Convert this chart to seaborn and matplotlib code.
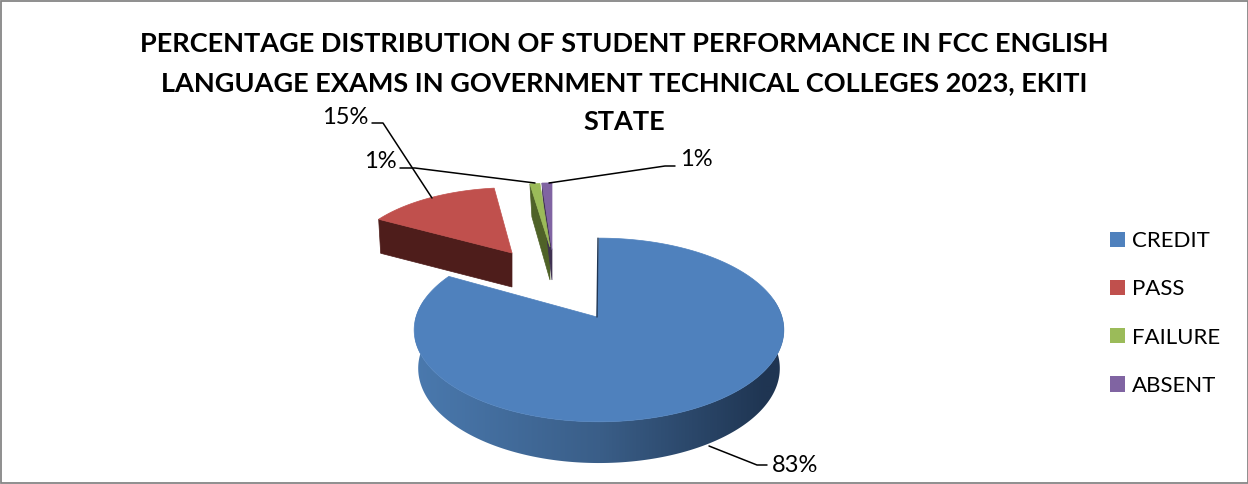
import numpy as np
import matplotlib
matplotlib.use('Agg')
import matplotlib.pyplot as plt
from matplotlib.patches import Patch, Polygon, Rectangle
from matplotlib.colors import LinearSegmentedColormap
import seaborn as sns

categories = ['CREDIT', 'PASS', 'FAILURE', 'ABSENT']
percentages = [83, 15, 1, 1]
title_lines = ['PERCENTAGE DISTRIBUTION OF STUDENT PERFORMANCE IN FCC ENGLISH',
               'LANGUAGE EXAMS IN GOVERNMENT TECHNICAL COLLEGES 2023, EKITI',
               'STATE']

colors = sns.color_palette(['#4f81bd', '#c0504d', '#9bbb59', '#8064a2'])
dark_colors = ['#1f3552', '#4e1d1b', '#4f6228', '#3f3151']

# pie geometry in pixels: apex of the unexploded slice, radii, perspective
CX, CY = 599, 317
RX, RY = 183, 90
PERSP = 0.141

# apex and radii of the exploded slices
exploded = {
    1: dict(ax=512, ay=253, rx=163, ry=75, depth=34),
    2: dict(ax=550, ay=247, rx=184, ry=73, depth=33),
    3: dict(ax=552, ay=250, rx=184, ry=77, depth=30),
}

sns.set_theme(style='white')
plt.rcParams['font.family'] = ['Lato', 'DejaVu Sans']

fig = plt.figure(figsize=(12.48, 4.84), dpi=100)
ax = fig.add_axes([0, 0, 1, 1])
ax.axis('off')

ax.add_patch(Rectangle((0.5, 1), 1247, 481.5, fill=False, ec='#868686', lw=1.3))


def main_rim(theta, cy=CY, rx=RX, ry=RY):
    u, v = np.sin(theta), np.cos(theta)
    d = 1 + PERSP * v
    return CX + rx * u / d, cy - ry * v / d


# slice angles come from the values, clockwise from 12 o'clock
edges = np.radians(np.cumsum([0] + percentages) / sum(percentages) * 360)

# side of the big slice, horizontal gradient clipped to its outline
steps = np.linspace(np.radians(60), np.radians(290), 240)
top_x, top_y = main_rim(steps)
low_x, low_y = main_rim(steps, CY + 38, 179, 92.8)
outline = Polygon(np.r_[np.c_[top_x, top_y], np.c_[low_x, low_y][::-1]], transform=ax.transData)
cmap = LinearSegmentedColormap.from_list('side', [(0, '#4a79ae'), (0.5, '#3a5e88'), (0.95, '#1f3552'), (1, '#1f3552')])
grad = ax.imshow(np.linspace(0, 1, 370).reshape(1, -1), cmap=cmap, extent=(415, 785, 480, 300),
                 aspect='auto', zorder=2, interpolation='bilinear')
grad.set_clip_path(outline)
ax.set_xlim(0, 1248)
ax.set_ylim(484, 0)

# top of the big slice
th = np.linspace(edges[0], edges[1], 300)
xs, ys = main_rim(th)
ax.add_patch(Polygon(np.r_[[[CX - 2, CY]], np.c_[xs, ys]], fc=colors[0], ec=colors[0], lw=0.5, zorder=3))
ax.plot([xs[0] - 1, CX - 2], [ys[0], CY], color=dark_colors[0], lw=1, zorder=4)

# the three small pulled out slices
for i in [1, 2, 3]:
    p = exploded[i]
    th = np.linspace(edges[i], edges[i + 1], 60)
    d = 1 + 0.148 * np.cos(th)
    xs = p['ax'] + p['rx'] * np.sin(th) / d
    ys = p['ay'] - p['ry'] * np.cos(th) / d
    h = p['depth']
    cut = [(xs[0], ys[0]), (p['ax'], p['ay']), (p['ax'], p['ay'] + h), (xs[0] + 2, ys[0] + h)]
    ax.add_patch(Polygon(cut, fc=dark_colors[i], ec=dark_colors[i], lw=0.5, zorder=3))
    ax.add_patch(Polygon(np.r_[[[p['ax'], p['ay']]], np.c_[xs, ys]], fc=colors[i], ec=colors[i], lw=0.5, zorder=4))

# leader lines
leaders = [
    [(709, 446), (757, 465), (767, 465)],
    [(372, 123), (383, 123), (432, 198)],
    [(400, 168), (415, 168), (535, 183)],
    [(549, 183), (665, 166), (675, 166)],
]
label_pos = [(795, 465), (345, 117), (380, 162), (696, 160)]
for pts, pos, val in zip(leaders, label_pos, percentages):
    ax.plot(*zip(*pts), color='black', lw=1.1, zorder=5)
    ax.text(pos[0], pos[1], f'{val}%', ha='center', va='center', fontsize=17, color='black')

for line, y in zip(title_lines, [44.5, 83.5, 121.5]):
    ax.text(624, y, line, ha='center', va='center', fontsize=19.5, fontweight='bold', color='black')

handles = [Patch(fc=c, ec='none') for c in colors]
ax.legend(handles, categories, loc='center left', bbox_to_anchor=(1110 / 1248, 1 - 313.5 / 484),
          frameon=False, fontsize=16, handlelength=0.68, handleheight=0.68, handletextpad=0.3,
          labelspacing=1.27, borderpad=0, borderaxespad=0, labelcolor='black')

fig.savefig('out.png', dpi=100)
